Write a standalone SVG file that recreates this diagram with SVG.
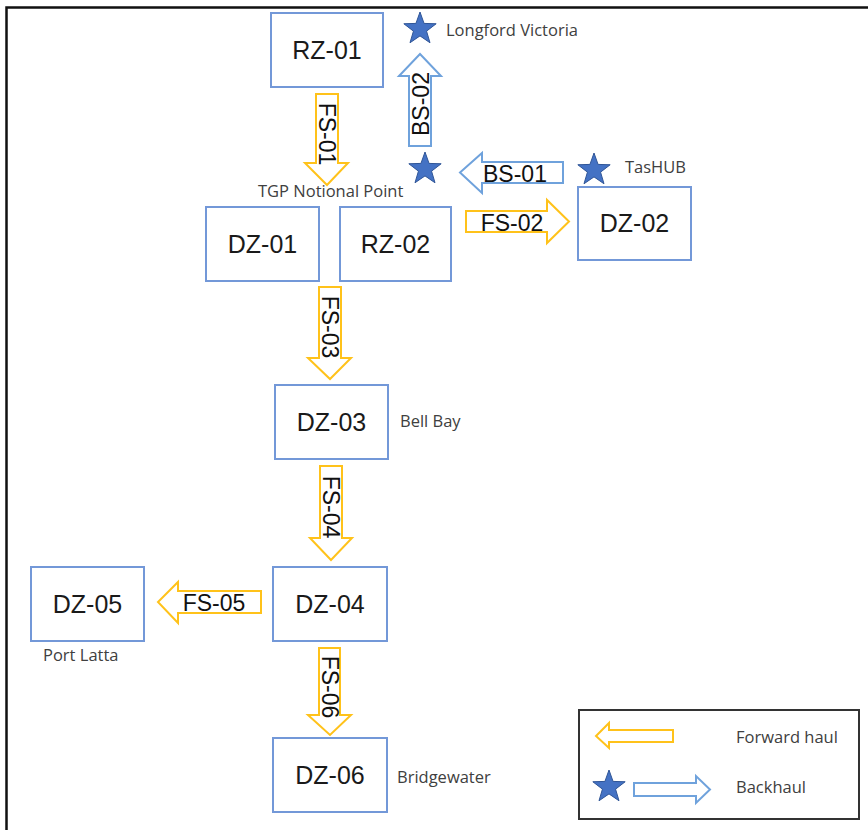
<svg xmlns="http://www.w3.org/2000/svg" xmlns:xlink="http://www.w3.org/1999/xlink" width="868" height="830" viewBox="0 0 868 830">
  <style>
    .box { fill: #ffffff; stroke: #7398d8; stroke-width: 2; }
    .boxtxt { font-family: "Liberation Sans", Arial, sans-serif; font-size: 25px; fill: #1a1a1a; text-anchor: middle; }
    .fwd { fill: #ffffff; stroke: #ffc21a; stroke-width: 2; stroke-linejoin: miter; }
    .back { fill: #ffffff; stroke: #6fa2dc; stroke-width: 2; stroke-linejoin: miter; }
    .arrtxt { font-family: "Liberation Sans", Arial, sans-serif; font-size: 23px; fill: #111111; text-anchor: middle; }
    .place { font-family: "Open Sans", "Liberation Sans", sans-serif; font-size: 16.5px; fill: #404040; }
    .star { fill: #4472c4; stroke: #2f5597; stroke-width: 1; }
  </style>
  <defs>
    <path id="star" d="M0,-17 L4.06,-5.58 L16.17,-5.25 L6.56,2.13 L9.99,13.75 L0,6.9 L-9.99,13.75 L-6.56,2.13 L-16.17,-5.25 L-4.06,-5.58 Z"/>
  </defs>
  <rect width="868" height="830" fill="#ffffff"/>
  <!-- outer frame (top and left edges) -->
  <path d="M6.5,830 V7.5 H868" fill="none" stroke="#111111" stroke-width="2.5"/>

  <!-- zones -->
  <g id="rz-01"><rect class="box" x="271" y="13" width="112" height="74"/><text class="boxtxt" x="327" y="59">RZ-01</text></g>
  <g id="dz-01"><rect class="box" x="206" y="207" width="113" height="74"/><text class="boxtxt" x="262.5" y="253">DZ-01</text></g>
  <g id="rz-02"><rect class="box" x="340" y="207" width="111" height="74"/><text class="boxtxt" x="395.5" y="253">RZ-02</text></g>
  <g id="dz-02"><rect class="box" x="578" y="187" width="113" height="73"/><text class="boxtxt" x="634.5" y="232">DZ-02</text></g>
  <g id="dz-03"><rect class="box" x="275" y="385" width="113" height="74"/><text class="boxtxt" x="331.5" y="431">DZ-03</text></g>
  <g id="dz-04"><rect class="box" x="273" y="567" width="114" height="74"/><text class="boxtxt" x="330" y="613">DZ-04</text></g>
  <g id="dz-05"><rect class="box" x="31" y="567" width="113" height="74"/><text class="boxtxt" x="87.5" y="613">DZ-05</text></g>
  <g id="dz-06"><rect class="box" x="273" y="738" width="114" height="74"/><text class="boxtxt" x="330" y="784">DZ-06</text></g>

  <!-- sites -->
  <g id="longford-victoria"><use href="#star" class="star" transform="translate(420,29)"/><text class="place" x="446" y="36">Longford Victoria</text></g>
  <g id="tgp-notional-point"><use href="#star" class="star" transform="translate(425,169)"/><text class="place" x="258" y="197">TGP Notional Point</text></g>
  <g id="tashub"><use href="#star" class="star" transform="translate(594,170)"/><text class="place" x="625" y="173">TasHUB</text></g>
  <g id="bell-bay"><text class="place" x="400" y="427">Bell Bay</text></g>
  <g id="port-latta"><text class="place" x="43" y="661">Port Latta</text></g>
  <g id="bridgewater"><text class="place" x="397" y="783">Bridgewater</text></g>

  <!-- haul segments -->
  <g id="connectors">
    <g id="fs-01"><path class="fwd" d="M316,94 H338 V163 H348 L327,185 L305,163 H316 Z"/><text class="arrtxt" transform="translate(327,134) rotate(90)" dy="8">FS-01</text></g>
    <g id="bs-02"><path class="back" d="M409,146 H431 V76 H441 L420,54 L399,76 H409 Z"/><text class="arrtxt" transform="translate(421,104) rotate(-90)" dy="8">BS-02</text></g>
    <g id="bs-01"><path class="back" d="M563,162 V183 H482 V193 L460,172.5 L482,153 V162 Z"/><text class="arrtxt" x="515" y="182">BS-01</text></g>
    <g id="fs-02"><path class="fwd" d="M466,211 H547 V200 L569,221.5 L547,243 V232 H466 Z"/><text class="arrtxt" x="512" y="231">FS-02</text></g>
    <g id="fs-03"><path class="fwd" d="M319,287 H341 V358 H351 L330,379 L308,358 H319 Z"/><text class="arrtxt" transform="translate(330,327) rotate(90)" dy="8">FS-03</text></g>
    <g id="fs-04"><path class="fwd" d="M320,466 H342 V538 H352 L331,560 L310,538 H320 Z"/><text class="arrtxt" transform="translate(331,507) rotate(90)" dy="8">FS-04</text></g>
    <g id="fs-05"><path class="fwd" d="M261,591 V613 H178 V623 L158,602 L178,582 V591 Z"/><text class="arrtxt" x="214" y="611">FS-05</text></g>
    <g id="fs-06"><path class="fwd" d="M319,648 H340 V715 H351 L330,735 L308,715 H319 Z"/><text class="arrtxt" transform="translate(330,687) rotate(90)" dy="8">FS-06</text></g>
  </g>

  <!-- legend -->
  <g id="legend">
    <rect x="579" y="710" width="280" height="109" fill="#ffffff" stroke="#333333" stroke-width="2"/>
    <path class="fwd" d="M673,730 V742 H609 V748 L596,736 L609,723 V730 Z"/>
    <text class="place" x="736" y="743">Forward haul</text>
    <use href="#star" class="star" transform="translate(609,787)"/>
    <path class="back" d="M634,783 H696 V776 L710,789.5 L696,803 V796 H634 Z"/>
    <text class="place" x="736" y="793">Backhaul</text>
  </g>
</svg>
